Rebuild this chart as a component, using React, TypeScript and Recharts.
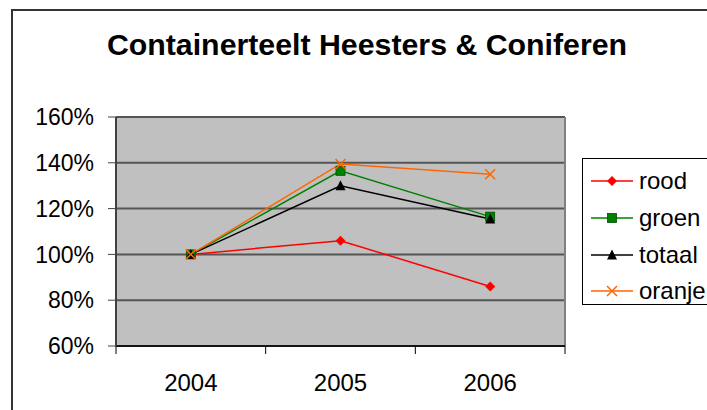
import { CartesianGrid, Line, LineChart, ReferenceLine, XAxis, YAxis } from "recharts";

const years = ["2004", "2005", "2006"];
const rood = [100, 106, 86];
const groen = [100, 136.5, 116.5];
const totaal = [100, 130, 115.5];
const oranje = [100, 139.5, 135];
const yTicks = [60, 80, 100, 120, 140, 160];

const FONT = "'Liberation Sans', Arial, sans-serif";

const data = years.map((year, i) => ({
    x: i + 0.5,
    year,
    rood: rood[i],
    groen: groen[i],
    totaal: totaal[i],
    oranje: oranje[i],
}));

// boundaries get a tick mark, centres get the year label
const xTicks: number[] = [];
for (let i = 0; i <= years.length; i++) {
    xTicks.push(i);
    if (i < years.length) xTicks.push(i + 0.5);
}

const SERIES = [
    { key: "rood", color: "#ff0000", shape: "diamond" },
    { key: "groen", color: "#008000", shape: "square" },
    { key: "totaal", color: "#000000", shape: "triangle" },
    { key: "oranje", color: "#ff6600", shape: "cross" },
];

function marker(shape: string, color: string, cx: number, cy: number, key?: string | number) {
    if (shape === "diamond") {
        return <path key={key} d={`M${cx},${cy - 5}L${cx + 5},${cy}L${cx},${cy + 5}L${cx - 5},${cy}Z`} fill={color} />;
    }
    if (shape === "square") {
        return <rect key={key} x={cx - 4.5} y={cy - 4.5} width={9} height={9} fill={color} stroke="#005000" strokeWidth={0.8} />;
    }
    if (shape === "triangle") {
        return <path key={key} d={`M${cx},${cy - 5.5}L${cx + 5},${cy + 4.5}L${cx - 5},${cy + 4.5}Z`} fill={color} />;
    }
    return (
        <path
            key={key}
            d={`M${cx - 5},${cy - 5}L${cx + 5},${cy + 5}M${cx - 5},${cy + 5}L${cx + 5},${cy - 5}`}
            stroke={color}
            strokeWidth={1.5}
            fill="none"
        />
    );
}

function YearTick(props: any) {
    const { x, y, payload } = props;
    const v = payload.value;
    if (Number.isInteger(v)) {
        return <line x1={x} y1={y} x2={x} y2={y + 8} stroke="#000" strokeWidth={1} />;
    }
    return (
        <text x={x} y={y + 45} textAnchor="middle" fontSize={24} fontFamily={FONT} fill="#000">
            {years[Math.floor(v)]}
        </text>
    );
}

function LegendBox() {
    return (
        <div
            style={{
                position: "absolute",
                left: 582,
                top: 158,
                border: "1px solid #000",
                background: "#fff",
                width: 150,
                height: 147,
                boxSizing: "border-box",
                paddingTop: 4,
            }}
        >
            {SERIES.map((s) => (
                <div key={s.key} style={{ display: "flex", alignItems: "center", height: 36.7 }}>
                    <svg width={55} height={20} style={{ flex: "none" }}>
                        <line x1={8} y1={10} x2={50} y2={10} stroke={s.color} strokeWidth={1.5} />
                        {marker(s.shape, s.color, 29, 10)}
                    </svg>
                    <span style={{ fontSize: 24, fontFamily: FONT, color: "#000", marginLeft: 1, whiteSpace: "nowrap" }}>
                        {s.key}
                    </span>
                </div>
            ))}
        </div>
    );
}

export default function App() {
    return (
        <div
            style={{
                position: "fixed",
                left: 0,
                top: 0,
                width: 707,
                height: 410,
                overflow: "hidden",
                background: "#fff",
                fontFamily: FONT,
            }}
        >
            <div
                style={{
                    position: "absolute",
                    left: 11,
                    top: 9,
                    width: 800,
                    height: 500,
                    border: "2px solid #333",
                }}
            />
            <div
                style={{
                    position: "absolute",
                    left: 0,
                    top: 30,
                    width: 734,
                    textAlign: "center",
                    fontSize: 30.3,
                    lineHeight: "30px",
                    fontWeight: "bold",
                    color: "#000",
                }}
            >
                Containerteelt Heesters &amp; Coniferen
            </div>
            <div style={{ position: "absolute", left: 0, top: 0 }}>
                <LineChart width={707} height={410} data={data} margin={{ top: 117, right: 142, left: 16, bottom: 24 }}>
                    <CartesianGrid vertical={false} stroke="#555" strokeWidth={2} fill="#c0c0c0" fillOpacity={1} />
                    <XAxis
                        dataKey="x"
                        type="number"
                        domain={[0, years.length]}
                        ticks={xTicks}
                        interval={0}
                        height={40}
                        tickSize={0}
                        tickMargin={0}
                        tickLine={false}
                        axisLine={{ stroke: "#000", strokeWidth: 1.5 }}
                        tick={<YearTick />}
                    />
                    <YAxis
                        type="number"
                        domain={[60, 160]}
                        ticks={yTicks}
                        interval={0}
                        width={100}
                        tickSize={8}
                        tickMargin={14}
                        tickFormatter={(v: number) => `${v}%`}
                        tick={{ fontSize: 23, fill: "#000", fontFamily: FONT }}
                        tickLine={{ stroke: "#404040" }}
                        axisLine={{ stroke: "#404040", strokeWidth: 2 }}
                    />
                    <ReferenceLine x={years.length} stroke="#808080" strokeWidth={2} />
                    {SERIES.map((s) => (
                        <Line
                            key={s.key}
                            dataKey={s.key}
                            stroke={s.color}
                            strokeWidth={1.5}
                            isAnimationActive={false}
                            dot={(p: any) => marker(s.shape, s.color, p.cx, p.cy, `${s.key}-${p.index}`)}
                            activeDot={false}
                        />
                    ))}
                </LineChart>
            </div>
            <LegendBox />
        </div>
    );
}
